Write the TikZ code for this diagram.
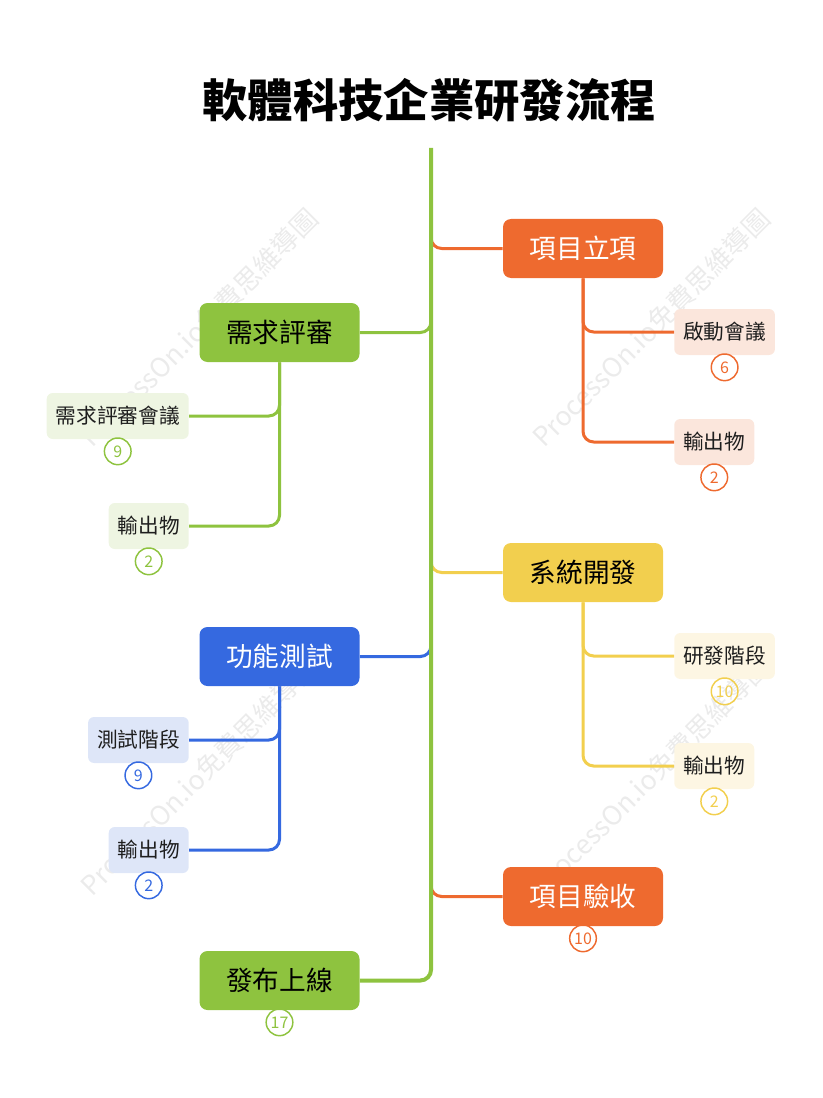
\documentclass[tikz,border=0pt]{standalone}
\usepackage{fontspec}
\setmainfont{Noto Sans CJK TC}
\usepackage{tikz}
\usetikzlibrary{positioning,calc}
\definecolor{orangeC}{HTML}{EE6A2F}
\definecolor{greenC}{HTML}{8EC33F}
\definecolor{yellowC}{HTML}{F2CF4E}
\definecolor{blueC}{HTML}{3569E0}
\definecolor{orangeL}{HTML}{FBE6DC}
\definecolor{greenL}{HTML}{EEF5E2}
\definecolor{yellowL}{HTML}{FDF6E3}
\definecolor{blueL}{HTML}{DEE6F8}
\definecolor{inkC}{HTML}{1E1E1E}
\newcommand\wmtext{ProcessOn.io免費思維導圖}

\begin{document}
\begin{tikzpicture}[x=0.75pt, y=-0.75pt,
  mainbox/.style={rounded corners=6pt, minimum width=120pt, minimum height=44.25pt,
    inner sep=0pt, font=\fontsize{20}{24}\selectfont},
  subbox/.style={rounded corners=4.5pt, minimum height=34.5pt, inner xsep=6.75pt,
    inner ysep=0pt, text=inkC, font=\fontsize{15.5}{18}\selectfont},
  badge/.style={circle, draw=#1, text=#1, line width=1.1pt, minimum size=20pt,
    inner sep=0pt, font=\fontsize{12}{13}\selectfont},
  branch/.style={line width=2.25pt, draw=#1, rounded corners=8pt},
  wmark/.style={rotate=45, anchor=west, text=black!8, inner sep=0pt,
    font=\fontsize{20}{22}\selectfont},
]
\useasboundingbox (0,0) rectangle (822,1098);

% watermark
\foreach \wx/\wy [count=\i] in {85/442, 537/442, 85/890, 537/890}
  \node[wmark] (wm\i) at (\wx,\wy) {\wmtext};

% title
\node[font=\fontsize{34}{38}\selectfont\bfseries] (title) at (429,100) {軟體科技企業研發流程};%%
\coordinate (top) at (431,148);

% main stages
\node[mainbox, fill=orangeC, text=white] (start)   at (583,248.5) {項目立項};%%
\node[mainbox, fill=greenC,  text=black] (review)  at (279.5,332.5) {需求評審};%%
\node[mainbox, fill=yellowC, text=black] (dev)     at (583,572.5) {系統開發};%%
\node[mainbox, fill=blueC,   text=white] (test)    at (279.5,656.5) {功能測試};%%
\node[mainbox, fill=orangeC, text=white] (accept)  at (583,896.5) {項目驗收};%%
\node[mainbox, fill=greenC,  text=black] (release) at (279.5,980.5) {發布上線};%%

% sub topics
\node[subbox, fill=orangeL, anchor=west] (kickoff)  at (674,332) {啟動會議};%%
\node[subbox, fill=orangeL, anchor=west] (startout) at (674,442) {輸出物};%%
\node[subbox, fill=greenL,  anchor=east] (revmeet)  at (189,416) {需求評審會議};%%
\node[subbox, fill=greenL,  anchor=east] (revout)   at (189,526) {輸出物};%%
\node[subbox, fill=yellowL, anchor=west] (devphase) at (674,656) {研發階段};%%
\node[subbox, fill=yellowL, anchor=west] (devout)   at (674,766) {輸出物};%%
\node[subbox, fill=blueL,   anchor=east] (testphase) at (189,740) {測試階段};%%
\node[subbox, fill=blueL,   anchor=east] (testout)  at (189,850) {輸出物};%%

% counters
\node[badge=orangeC, below=-1.5pt of kickoff]  (kickoffn)  {6};
\node[badge=orangeC, below=-1.5pt of startout] (startoutn) {2};
\node[badge=greenC,  below=-1.5pt of revmeet]  (revmeetn)  {9};
\node[badge=greenC,  below=-1.5pt of revout]   (revoutn)   {2};
\node[badge=yellowC, below=-1.5pt of devphase] (devphasen) {10};
\node[badge=yellowC, below=-1.5pt of devout]   (devoutn)   {2};
\node[badge=blueC,   below=-1.5pt of testphase] (testphasen) {9};
\node[badge=blueC,   below=-1.5pt of testout]  (testoutn)  {2};
\node[badge=orangeC, below=-1.5pt of accept]   (acceptn)   {10};
\node[badge=greenC,  below=-1.5pt of release]  (releasen)  {17};

% branches from the spine
\draw[branch=orangeC] ($(start.west -| top)+(0,-14)$) |- (start.west);%%
\draw[branch=greenC]  (review.east) -| ($(review.east -| top)+(0,-14)$);%%
\draw[branch=yellowC] ($(dev.west -| top)+(0,-14)$) |- (dev.west);%%
\draw[branch=blueC]   (test.east) -| ($(test.east -| top)+(0,-14)$);%%
\draw[branch=orangeC] ($(accept.west -| top)+(0,-14)$) |- (accept.west);%%
\draw[line width=3pt, draw=greenC, rounded corners=8pt] (top) |- (release.east);%%

% branches to sub topics
\draw[branch=orangeC] (start.south) |- (kickoff.west);
\draw[branch=orangeC] (start.south) |- (startout.west);
\draw[branch=greenC]  (review.south) |- (revmeet.east);
\draw[branch=greenC]  (review.south) |- (revout.east);
\draw[branch=yellowC] (dev.south) |- (devphase.west);
\draw[branch=yellowC] (dev.south) |- (devout.west);
\draw[branch=blueC]   (test.south) |- (testphase.east);
\draw[branch=blueC]   (test.south) |- (testout.east);
\end{tikzpicture}
\end{document}
